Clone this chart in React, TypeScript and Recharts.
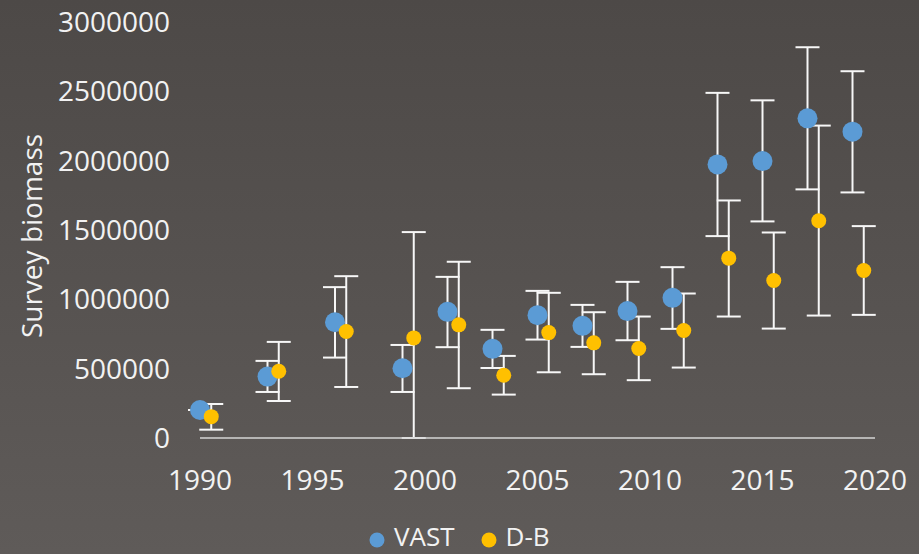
import React from 'react';
import {
  ScatterChart,
  Scatter,
  XAxis,
  YAxis,
  ErrorBar,
  Legend,
} from 'recharts';

// Survey years (D-B is plotted half a year to the right of VAST)
const vastYears = [1990, 1993, 1996, 1999, 2001, 2003, 2005, 2007, 2009, 2011, 2013, 2015, 2017, 2019];
const dbYears = [1990.5, 1993.5, 1996.5, 1999.5, 2001.5, 2003.5, 2005.5, 2007.5, 2009.5, 2011.5, 2013.5, 2015.5, 2017.5, 2019.5];

const vastValues = [202000, 443000, 835000, 503000, 910000, 643000, 886000, 809000, 915000, 1011000, 1973000, 1997000, 2305000, 2209000];
const vastLower = [202000, 332000, 580000, 332000, 655000, 505000, 710000, 657000, 705000, 787000, 1456000, 1562000, 1793000, 1771000];
const vastUpper = [202000, 556000, 1088000, 671000, 1162000, 780000, 1061000, 960000, 1126000, 1232000, 2489000, 2435000, 2818000, 2645000];

const dbValues = [154000, 481000, 768000, 722000, 816000, 453000, 760000, 686000, 645000, 775000, 1297000, 1136000, 1567000, 1208000];
const dbLower = [60000, 267000, 368000, 0, 359000, 313000, 474000, 460000, 417000, 508000, 876000, 789000, 883000, 888000];
const dbUpper = [245000, 693000, 1167000, 1485000, 1271000, 592000, 1047000, 907000, 876000, 1042000, 1713000, 1482000, 2253000, 1528000];

const seriesNames = ['VAST', 'D-B'];
const xTicks = [1990, 1995, 2000, 2005, 2010, 2015, 2020];
const yTicks = [0, 500000, 1000000, 1500000, 2000000, 2500000, 3000000];

const toRows = (xs: number[], ys: number[], lo: number[], hi: number[]) =>
  xs.map((x, i) => ({ x, y: ys[i], err: [ys[i] - lo[i], hi[i] - ys[i]] }));

const vastData = toRows(vastYears, vastValues, vastLower, vastUpper);
const dbData = toRows(dbYears, dbValues, dbLower, dbUpper);

const FONT = '"Open Sans", sans-serif';
const TEXT = '#f2f2f2';

const dot = (r: number, fill: string) => (props: any) => (
  <circle cx={props.cx} cy={props.cy} r={r} fill={fill} />
);

const LegendContent = (props: any) => {
  const payload = [...(props.payload || [])].sort(
    (a: any, b: any) => seriesNames.indexOf(a.value) - seriesNames.indexOf(b.value)
  );
  return (
    <div style={{ display: 'flex', justifyContent: 'flex-start', alignItems: 'center', height: 24, paddingLeft: 369 }}>
      {payload.map((p: any, i: number) => (
        <div key={i} style={{ display: 'flex', alignItems: 'center', marginRight: i === 0 ? 26 : 0 }}>
          <svg width={16} height={16} style={{ marginRight: 9, position: 'relative', top: 4 }}>
            <circle cx={8} cy={8} r={7.5} fill={p.color} />
          </svg>
          <span style={{ color: TEXT, fontSize: 26, fontFamily: FONT, lineHeight: '24px' }}>{p.value}</span>
        </div>
      ))}
    </div>
  );
};

const YLabel = () => (
  <text
    x={42}
    y={236}
    transform="rotate(-90 42 236)"
    textAnchor="middle"
    fill={TEXT}
    fontSize={28}
    fontFamily={FONT}
  >
    Survey biomass
  </text>
);

export default function App() {
  return (
    <div
      style={{
        position: 'fixed',
        left: 0,
        top: 0,
        width: 919,
        height: 554,
        background: 'linear-gradient(#4d4947, #5f5b59)',
      }}
    >
      <ScatterChart width={919} height={554} margin={{ top: 22, right: 44, bottom: 0, left: 0 }}>
        <XAxis
          type="number"
          dataKey="x"
          domain={[1990, 2020]}
          ticks={xTicks}
          tickSize={0}
          tickMargin={32}
          height={86}
          axisLine={{ stroke: '#d4d4d4', strokeWidth: 1.5 }}
          tickLine={false}
          tick={{ fill: TEXT, fontSize: 28, fontFamily: FONT }}
        />
        <YAxis
          type="number"
          dataKey="y"
          domain={[0, 3000000]}
          ticks={yTicks}
          width={200}
          tickSize={0}
          tickMargin={30}
          axisLine={false}
          tickLine={false}
          tick={{ fill: TEXT, fontSize: 28, fontFamily: FONT }}
          label={{ content: () => <YLabel /> }}
        />
        <Legend verticalAlign="bottom" height={30} content={<LegendContent />} />
        <Scatter name="VAST" data={vastData} fill="#5b9bd5" shape={dot(10, '#5b9bd5')} isAnimationActive={false}>
          <ErrorBar dataKey="err" direction="y" width={12} stroke="#f7f7f7" strokeWidth={2} />
        </Scatter>
        <Scatter name="D-B" data={dbData} fill="#ffc000" shape={dot(7.5, '#ffc000')} isAnimationActive={false}>
          <ErrorBar dataKey="err" direction="y" width={12} stroke="#f7f7f7" strokeWidth={2} />
        </Scatter>
      </ScatterChart>
    </div>
  );
}
